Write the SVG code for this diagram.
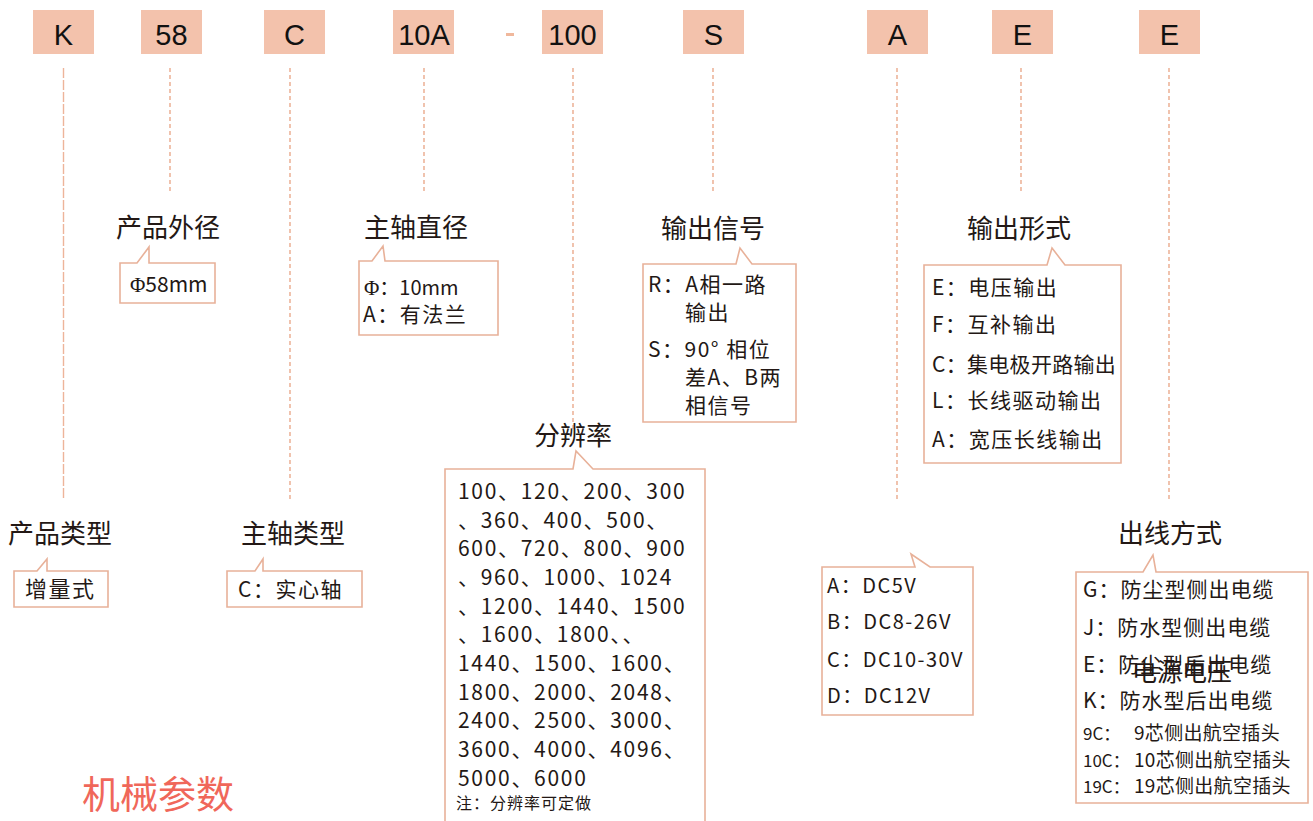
<svg xmlns="http://www.w3.org/2000/svg" width="1313" height="821" viewBox="0 0 1313 821">
<style>
.code{fill:#F3C2AC}
.ct{font-family:"Liberation Sans",Arial,sans-serif;font-size:29px;fill:#111;text-anchor:middle}
.ln{stroke:#EDB49A;stroke-width:1.6;stroke-dasharray:4 3;fill:none}
.lk{stroke:#EDB49A;stroke-width:1.4;stroke-dasharray:10 2;fill:none}
.co{fill:#fff;stroke:#E8B199;stroke-width:1.6}
.ti{font-family:"Noto Sans CJK SC","Noto Sans",sans-serif;font-size:26px;fill:#231815}
.tx{font-family:"Noto Sans CJK SC","Noto Sans",sans-serif;font-size:21px;fill:#231815;letter-spacing:1.5px}
.num{font-family:"Noto Sans CJK SC","Noto Sans",sans-serif;font-size:21px;fill:#231815;letter-spacing:1.7px}
.sm{font-family:"Noto Sans CJK SC","Noto Sans",sans-serif;font-size:16px;fill:#231815;letter-spacing:1px}
.pw{font-family:"Noto Sans CJK SC","Noto Sans",sans-serif;font-size:20px;fill:#231815;letter-spacing:1.5px}
.cab{font-family:"Noto Sans CJK SC","Noto Sans",sans-serif;font-size:21px;fill:#231815;letter-spacing:1px}
.cab2{font-family:"Noto Sans CJK SC","Noto Sans",sans-serif;font-size:19px;fill:#231815;letter-spacing:0.3px}
.pre{font-size:17px;letter-spacing:0}
</style>
<rect width="1313" height="821" fill="#fff"/>

<g id="code-boxes">
<g id="code-K"><rect class="code" x="33" y="10" width="61" height="44"/><text class="ct" x="63.5" y="45">K</text></g>
<g id="code-58"><rect class="code" x="141" y="10" width="61" height="44"/><text class="ct" x="171.5" y="45">58</text></g>
<g id="code-C"><rect class="code" x="264" y="10" width="61" height="44"/><text class="ct" x="294.5" y="45">C</text></g>
<g id="code-10A"><rect class="code" x="393" y="10" width="61" height="44"/><text class="ct" x="424" y="45">10A</text></g>
<g id="code-dash"><rect x="506" y="33" width="8" height="3" fill="#F0B89C"/></g>
<g id="code-100"><rect class="code" x="542" y="10" width="61" height="44"/><text class="ct" x="572.5" y="45">100</text></g>
<g id="code-S"><rect class="code" x="683" y="10" width="61" height="44"/><text class="ct" x="713.5" y="45">S</text></g>
<g id="code-A"><rect class="code" x="867" y="10" width="61" height="44"/><text class="ct" x="897.5" y="45">A</text></g>
<g id="code-E1"><rect class="code" x="992" y="10" width="61" height="44"/><text class="ct" x="1022.5" y="45">E</text></g>
<g id="code-E2"><rect class="code" x="1139" y="10" width="61" height="44"/><text class="ct" x="1169.5" y="45">E</text></g>
</g>

<g id="connectors">
<line class="lk" x1="63.5" y1="68" x2="63.5" y2="500"/>
<line class="ln" x1="170" y1="68" x2="170" y2="194"/>
<line class="ln" x1="290" y1="68" x2="290" y2="500"/>
<line class="ln" x1="424" y1="68" x2="424" y2="192"/>
<line class="ln" x1="573" y1="68" x2="573" y2="432"/>
<line class="ln" x1="713" y1="68" x2="713" y2="192"/>
<line class="ln" x1="897" y1="68" x2="897" y2="500"/>
<line class="ln" x1="1021" y1="68" x2="1021" y2="192"/>
<line class="ln" x1="1169" y1="68" x2="1169" y2="500"/>
</g>

<g id="node-outer-diameter">
<text class="ti" x="116" y="237">产品外径</text>
<path class="co" d="M120,263 L137,263 L149,247 L149,263 L215,263 L215,303 L120,303 Z"/>
<text x="130" y="292" style="font-family:'Liberation Serif',serif;font-size:21px;fill:#231815">Φ<tspan style="font-family:'Noto Sans CJK SC',sans-serif;font-size:21px">58mm</tspan></text>
</g>

<g id="node-shaft-diameter">
<text class="ti" x="364" y="237">主轴直径</text>
<path class="co" d="M359,261 L372,261 L383,246 L385,261 L498,261 L498,335 L359,335 Z"/>
<text x="364" y="295" style="font-family:'Liberation Serif',serif;font-size:21px;fill:#231815">Φ<tspan style="font-family:'Noto Sans CJK SC',sans-serif;font-size:20px">：10mm</tspan></text>
<text class="tx" x="363" y="322">A：有法兰</text>
</g>

<g id="node-output-signal">
<text class="ti" x="661" y="238">输出信号</text>
<path class="co" d="M643,264 L736,264 L740,248 L752,264 L796,264 L796,422 L643,422 Z"/>
<text class="tx" x="648" y="292">R：A相一路</text>
<text class="tx" x="685" y="320">输出</text>
<text class="tx" x="648" y="357">S：90° 相位</text>
<text class="tx" x="685" y="385">差A、B两</text>
<text class="tx" x="685" y="413">相信号</text>
</g>

<g id="node-output-form">
<text class="ti" x="967" y="238">输出形式</text>
<path class="co" d="M924,265 L1047,265 L1052,248 L1065,265 L1121,265 L1121,463 L924,463 Z"/>
<text class="tx" x="932" y="295">E：电压输出</text>
<text class="tx" x="932" y="332">F：互补输出</text>
<text class="tx" x="932" y="372" style="letter-spacing:0.3px">C：集电极开路输出</text>
<text class="tx" x="932" y="408">L：长线驱动输出</text>
<text class="tx" x="932" y="447">A：宽压长线输出</text>
</g>

<g id="node-resolution">
<text class="ti" x="534" y="445">分辨率</text>
<path class="co" fill="none" d="M445,825 L445,469 L573,469 L576,451 L593,469 L705,469 L705,825"/>
<text class="num" x="458" y="499">100、120、200、300</text>
<text class="num" x="458" y="528">、360、400、500、</text>
<text class="num" x="458" y="556">600、720、800、900</text>
<text class="num" x="458" y="585">、960、1000、1024</text>
<text class="num" x="458" y="614">、1200、1440、1500</text>
<text class="num" x="458" y="642">、1600、1800、、</text>
<text class="num" x="458" y="671">1440、1500、1600、</text>
<text class="num" x="458" y="700">1800、2000、2048、</text>
<text class="num" x="458" y="728">2400、2500、3000、</text>
<text class="num" x="458" y="757">3600、4000、4096、</text>
<text class="num" x="458" y="786">5000、6000</text>
<text class="sm" x="456" y="809">注：分辨率可定做</text>
</g>

<g id="node-power">
<path class="co" d="M822,567 L915,567 L911,554 L930,567 L973,567 L973,715 L822,715 Z"/>
<text class="pw" x="827" y="593">A：DC5V</text>
<text class="pw" x="827" y="629">B：DC8-26V</text>
<text class="pw" x="827" y="667">C：DC10-30V</text>
<text class="pw" x="827" y="703">D：DC12V</text>
</g>

<g id="node-cable">
<text class="ti" x="1118" y="543">出线方式</text>
<path class="co" d="M1076,572 L1143,572 L1153,555 L1156,572 L1308,572 L1308,803 L1076,803 Z"/>
<text class="cab" x="1083" y="597">G：防尘型侧出电缆</text>
<text class="cab" x="1083" y="635">J：防水型侧出电缆</text>
<text class="cab" x="1083" y="672">E：防尘型后出电缆</text>
<text class="cab" x="1083" y="708">K：防水型后出电缆</text>
<text class="cab2" x="1083" y="740"><tspan class="pre">9C：</tspan><tspan x="1134">9芯侧出航空插头</tspan></text>
<text class="cab2" x="1083" y="767"><tspan class="pre">10C：</tspan><tspan x="1134">10芯侧出航空插头</tspan></text>
<text class="cab2" x="1083" y="793"><tspan class="pre">19C：</tspan><tspan x="1134">19芯侧出航空插头</tspan></text>
<text class="ti" x="1132" y="681" style="font-size:25px">电源电压</text>
</g>

<g id="node-product-type">
<text class="ti" x="8" y="543">产品类型</text>
<path class="co" d="M14,571 L37,571 L47,559 L47,571 L108,571 L108,607 L14,607 Z"/>
<text class="tx" x="25" y="597" style="font-size:22px">增量式</text>
</g>

<g id="node-shaft-type">
<text class="ti" x="241" y="543">主轴类型</text>
<path class="co" d="M227,571 L255,571 L263,559 L263,571 L362,571 L362,607 L227,607 Z"/>
<text class="tx" x="238" y="597">C：实心轴</text>
</g>

<text x="82" y="808" style="font-family:'Noto Sans CJK SC',sans-serif;font-size:38px;fill:#F0675A">机械参数</text>
</svg>
